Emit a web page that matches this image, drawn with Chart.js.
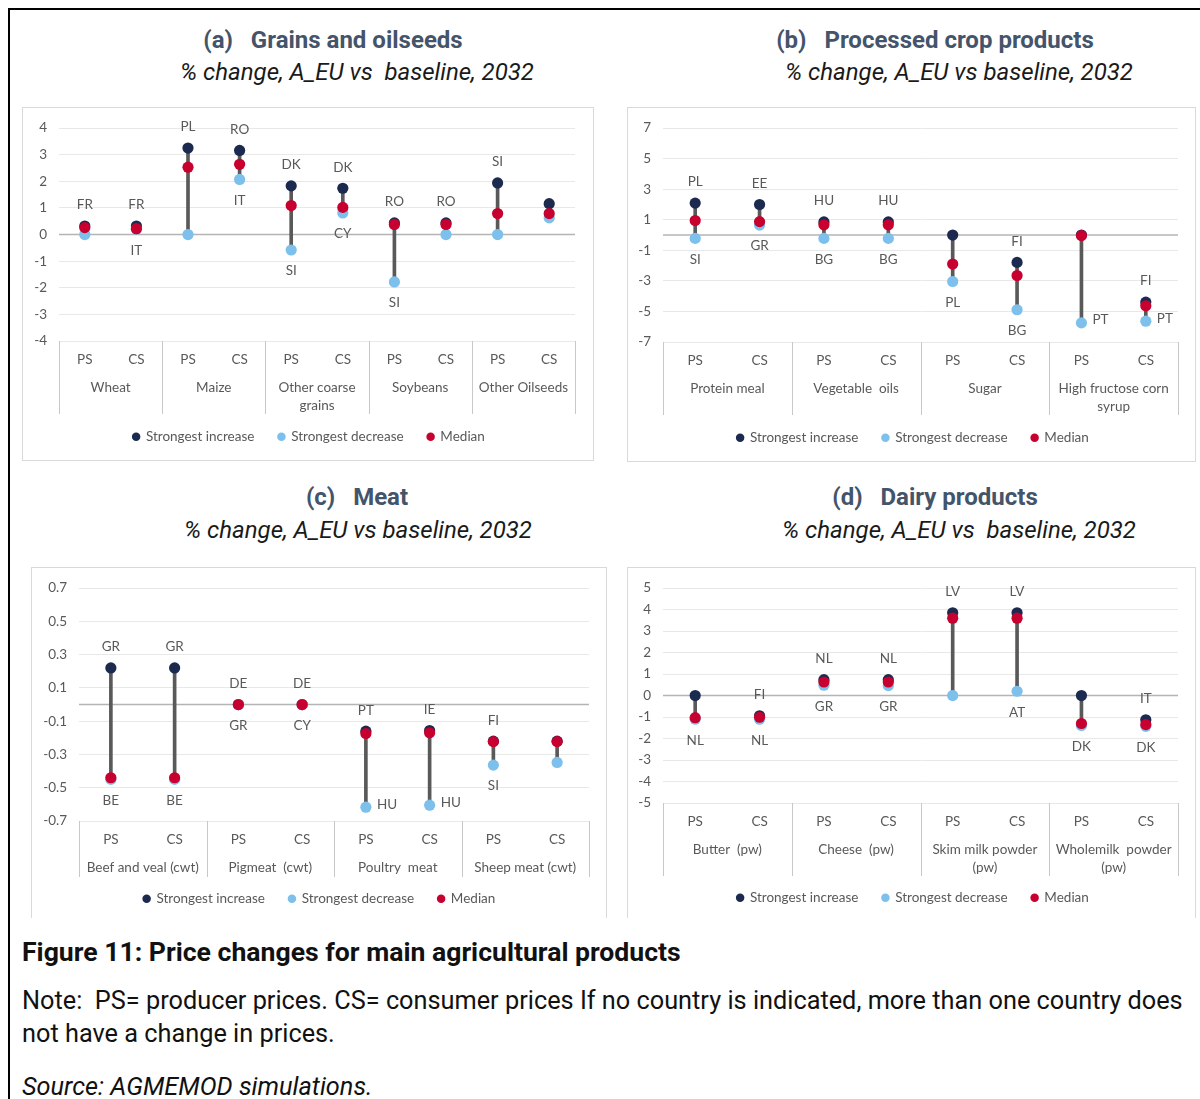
<!DOCTYPE html>
<html>
<head>
<meta charset="utf-8">
<script src="https://cdn.jsdelivr.net/npm/chart.js@4.4.1/dist/chart.umd.min.js"></script>
<style>
  body { margin: 0; background: #fff; width: 1200px; height: 1099px; overflow: hidden; position: relative; font-family: Roboto, sans-serif; }
  #frame { position: absolute; left: 8px; top: 8px; width: 1300px; height: 1200px; border-top: 2px solid #000; border-left: 2px solid #000; }
  .t { position: absolute; white-space: pre; line-height: 1; transform: translate(-50%, -50%); }
  .ttl { font-weight: bold; font-size: 24px; color: #44546A; }
  .sub { font-style: italic; font-size: 24px; color: #1a1a1a; }
  .box { position: absolute; box-sizing: border-box; border: 1px solid #D9D9D9; background: #fff; }
  .box canvas { display: block; }
  .cap { position: absolute; left: 22px; white-space: pre; color: #111; line-height: 1; }
</style>
</head>
<body>
<div id="frame"></div>

<div class="t ttl" style="left:333px;top:40px">(a)   Grains and oilseeds</div>
<div class="t sub" style="left:357px;top:72px">% change, A_EU vs  baseline, 2032</div>
<div class="t ttl" style="left:935px;top:40px">(b)   Processed crop products</div>
<div class="t sub" style="left:959px;top:72px">% change, A_EU vs baseline, 2032</div>
<div class="t ttl" style="left:357px;top:497px">(c)   Meat</div>
<div class="t sub" style="left:358px;top:530px">% change, A_EU vs baseline, 2032</div>
<div class="t ttl" style="left:935px;top:497px">(d)   Dairy products</div>
<div class="t sub" style="left:959px;top:530px">% change, A_EU vs  baseline, 2032</div>

<div class="box" style="left:22px;top:107px;width:572px;height:354px"><canvas id="chartA" width="570" height="352"></canvas></div>
<div class="box" style="left:627px;top:107px;width:569px;height:355px"><canvas id="chartB" width="567" height="353"></canvas></div>
<div class="box" style="left:31px;top:567px;width:576px;height:351px;border-bottom:none"><canvas id="chartC" width="574" height="350"></canvas></div>
<div class="box" style="left:627px;top:567px;width:569px;height:351px;border-bottom:none"><canvas id="chartD" width="567" height="350"></canvas></div>

<div class="cap" style="top:939px;font-weight:bold;font-size:26.6px">Figure 11: Price changes for main agricultural products</div>
<div class="cap" style="top:984px;font-size:25.3px;line-height:33px">Note:  PS= producer prices. CS= consumer prices If no country is indicated, more than one country does
not have a change in prices.</div>
<div class="cap" style="top:1074px;font-size:25.3px;font-style:italic">Source: AGMEMOD simulations.</div>

<script>
const TXT = '#595959', GRID = '#E8E8E8', SEP = '#C8C8C8';
const C_INC = '#1B2A4E', C_DEC = '#7DC0EB', C_MED = '#C8002F', C_LINE = '#595959';
const FONT = { family: 'Lato', size: 13.5 };
const priceTypes = ['PS', 'CS'];
const seriesNames = ['Strongest increase', 'Strongest decrease', 'Median'];

// (a) Grains and oilseeds
const aGroups = ['Wheat', 'Maize', ['Other coarse', 'grains'], 'Soybeans', 'Other Oilseeds'];
const aInc = [0.32, 0.32, 3.25, 3.16, 1.83, 1.74, 0.44, 0.44, 1.94, 1.16];
const aDec = [0, 0.2, 0, 2.07, -0.58, 0.81, -1.78, 0, 0, 0.63];
const aMed = [0.26, 0.22, 2.53, 2.64, 1.09, 1.02, 0.38, 0.38, 0.79, 0.79];
const aIncLbl = ['FR', 'FR', 'PL', 'RO', 'DK', 'DK', 'RO', 'RO', 'SI', ''];
const aDecLbl = ['', 'IT', '', 'IT', 'SI', 'CY', 'SI', '', '', ''];
const aYTicks = [-4, -3, -2, -1, 0, 1, 2, 3, 4];

// (b) Processed crop products
const bGroups = ['Protein meal', 'Vegetable  oils', 'Sugar', ['High fructose corn', 'syrup']];
const bInc = [2.09, 2.0, 0.86, 0.86, 0, -1.79, 0, -4.39];
const bDec = [-0.22, 0.65, -0.22, -0.22, -3.04, -4.89, -5.75, -5.64];
const bMed = [0.95, 0.88, 0.67, 0.67, -1.9, -2.65, -0.03, -4.63];
const bIncLbl = ['PL', 'EE', 'HU', 'HU', '', 'FI', '', 'FI'];
const bDecLbl = ['SI', 'GR', 'BG', 'BG', 'PL', 'BG', 'PT', 'PT'];
const bYTicks = [-7, -5, -3, -1, 1, 3, 5, 7];

// (c) Meat
const cGroups = ['Beef and veal (cwt)', 'Pigmeat  (cwt)', 'Poultry  meat', 'Sheep meat (cwt)'];
const cInc = [0.22, 0.22, 0, 0, -0.16, -0.156, -0.22, -0.22];
const cDec = [-0.45, -0.45, 0, 0, -0.617, -0.605, -0.364, -0.348];
const cMed = [-0.44, -0.44, 0, 0, -0.174, -0.17, -0.223, -0.223];
const cIncLbl = ['GR', 'GR', 'DE', 'DE', 'PT', 'IE', 'FI', ''];
const cDecLbl = ['BE', 'BE', 'GR', 'CY', 'HU', 'HU', 'SI', ''];
const cYTicks = [-0.7, -0.5, -0.3, -0.1, 0.1, 0.3, 0.5, 0.7];

// (d) Dairy products
const dGroups = ['Butter  (pw)', 'Cheese  (pw)', ['Skim milk powder', '(pw)'], ['Wholemilk  powder', '(pw)']];
const dInc = [0, -0.94, 0.74, 0.74, 3.85, 3.85, 0, -1.13];
const dDec = [-1.1, -1.1, 0.48, 0.46, 0, 0.2, -1.4, -1.43];
const dMed = [-1.03, -1.01, 0.63, 0.63, 3.6, 3.6, -1.3, -1.35];
const dIncLbl = ['', 'FI', 'NL', 'NL', 'LV', 'LV', '', 'IT'];
const dDecLbl = ['NL', 'NL', 'GR', 'GR', '', 'AT', 'DK', 'DK'];
const dYTicks = [-5, -4, -3, -2, -1, 0, 1, 2, 3, 4, 5];

const zeroLine = {
  id: 'zeroLine',
  beforeDatasetsDraw(chart) {
    const {ctx, chartArea, scales: {y}} = chart;
    const y0 = y.getPixelForValue(0);
    ctx.save();
    ctx.strokeStyle = '#B4B4B4';
    ctx.lineWidth = 1.5;
    ctx.beginPath();
    ctx.moveTo(chartArea.left, y0);
    ctx.lineTo(chartArea.right, y0);
    ctx.stroke();
    ctx.restore();
  }
};

// nudge the legend row so it sits where the original one does
const legendShift = {
  id: 'legendShift',
  afterLayout(chart, args, opts) {
    if (!chart.legend) return;
    chart.legend.left += opts.dx;
    chart.legend.right += opts.dx;
  }
};

// second row of the category axis: product names and the separators
const groupAxis = {
  id: 'groupAxis',
  afterDraw(chart, args, opts) {
    const {ctx, chartArea: {left, right, bottom}} = chart;
    const n = opts.groups.length;
    const w = (right - left) / n;
    ctx.save();
    ctx.strokeStyle = SEP;
    ctx.lineWidth = 1;
    for (let i = 0; i <= n; i++) {
      const xx = Math.round(left + i * w) + 0.5;
      ctx.beginPath();
      ctx.moveTo(xx, bottom);
      ctx.lineTo(xx, bottom + opts.sep);
      ctx.stroke();
    }
    ctx.font = FONT.size + 'px Lato';
    ctx.fillStyle = TXT;
    ctx.textAlign = 'center';
    ctx.textBaseline = 'middle';
    opts.groups.forEach((g, i) => {
      [].concat(g).forEach((line, j) => {
        ctx.fillText(line, left + (i + 0.5) * w, bottom + 47 + j * 18);
      });
    });
    ctx.restore();
  }
};

const countryLabels = {
  id: 'countryLabels',
  afterDatasetsDraw(chart, args, opts) {
    const {ctx} = chart;
    const incPts = chart.getDatasetMeta(1).data;
    const decPts = chart.getDatasetMeta(2).data;
    ctx.save();
    ctx.font = FONT.size + 'px Lato';
    ctx.fillStyle = TXT;
    ctx.textBaseline = 'middle';
    opts.inc.forEach((t, i) => {
      if (!t) return;
      ctx.textAlign = 'center';
      ctx.fillText(t, incPts[i].x, incPts[i].y - 21);
    });
    opts.dec.forEach((t, i) => {
      if (!t) return;
      if (opts.right.includes(i)) {
        ctx.textAlign = 'left';
        ctx.fillText(t, decPts[i].x + 11, decPts[i].y - 3);
      } else {
        ctx.textAlign = 'center';
        ctx.fillText(t, decPts[i].x, decPts[i].y + 21);
      }
    });
    ctx.restore();
  }
};

function pointSet(label, data, color, order) {
  return {
    label: label, data: data, order: order,
    showLine: false, borderWidth: 0,
    backgroundColor: color, borderColor: color,
    pointBackgroundColor: color, pointBorderWidth: 0,
    pointRadius: 5.6, pointHoverRadius: 5.6, pointStyle: 'circle'
  };
}

function makeChart(id, groups, inc, dec, med, incLbl, decLbl, yTicks, lay) {
  const labels = groups.flatMap(() => priceTypes);
  const ranges = inc.map((v, i) => [Math.min(v, dec[i], med[i]), Math.max(v, dec[i], med[i])]);
  const step = yTicks[1] - yTicks[0];
  return new Chart(document.getElementById(id), {
    type: 'line',
    data: {
      labels: labels,
      datasets: [
        { type: 'bar', label: 'range', data: ranges, backgroundColor: C_LINE, barThickness: 3, order: 10 },
        pointSet(seriesNames[0], inc, C_INC, 3),
        pointSet(seriesNames[1], dec, C_DEC, 2),
        pointSet(seriesNames[2], med, C_MED, 1)
      ]
    },
    options: {
      responsive: false,
      animation: false,
      layout: { padding: { left: 0, right: lay.pr, top: lay.pt, bottom: lay.pb } },
      scales: {
        x: {
          offset: true,
          grid: { display: false, drawTicks: false },
          border: { display: false },
          ticks: { color: TXT, font: FONT, padding: 11, maxRotation: 0, autoSkip: false },
          afterFit: s => { s.height = lay.xh; }
        },
        y: {
          min: yTicks[0],
          max: yTicks[yTicks.length - 1],
          grid: { color: GRID, lineWidth: 1, drawTicks: false },
          border: { display: false },
          ticks: {
            stepSize: step, color: TXT, font: FONT, padding: 12,
            callback: v => lay.dec1 ? v.toFixed(1) : v
          },
          afterFit: s => { s.width = lay.yw; }
        }
      },
      plugins: {
        tooltip: { enabled: false },
        legend: {
          position: 'bottom',
          labels: {
            usePointStyle: true, pointStyle: 'circle', boxWidth: 6, boxHeight: 6, padding: 24,
            color: TXT, font: FONT,
            filter: item => item.datasetIndex > 0,
            sort: (a, b) => a.datasetIndex - b.datasetIndex
          }
        },
        legendShift: { dx: lay.ldx },
        groupAxis: { groups: groups, sep: lay.sep },
        countryLabels: { inc: incLbl, dec: decLbl, right: lay.right || [] }
      }
    },
    plugins: [zeroLine, legendShift, groupAxis, countryLabels]
  });
}

makeChart('chartA', aGroups, aInc, aDec, aMed, aIncLbl, aDecLbl, aYTicks,
  { yw: 36, pr: 18, pt: 17, pb: 6.5, xh: 65, sep: 73, ldx: 10 });
makeChart('chartB', bGroups, bInc, bDec, bMed, bIncLbl, bDecLbl, bYTicks,
  { yw: 35, pr: 17, pt: 18, pb: 6.5, xh: 65, sep: 73, right: [6, 7], ldx: 10 });
makeChart('chartC', cGroups, cInc, cDec, cMed, cIncLbl, cDecLbl, cYTicks,
  { yw: 47, pr: 17, pt: 17, pb: 2.5, xh: 47, sep: 56, right: [4, 5], dec1: true, ldx: 9 });
makeChart('chartD', dGroups, dInc, dDec, dMed, dIncLbl, dDecLbl, dYTicks,
  { yw: 35, pr: 17, pt: 18, pb: 3.5, xh: 64, sep: 73, ldx: 10 });
</script>
</body>
</html>
